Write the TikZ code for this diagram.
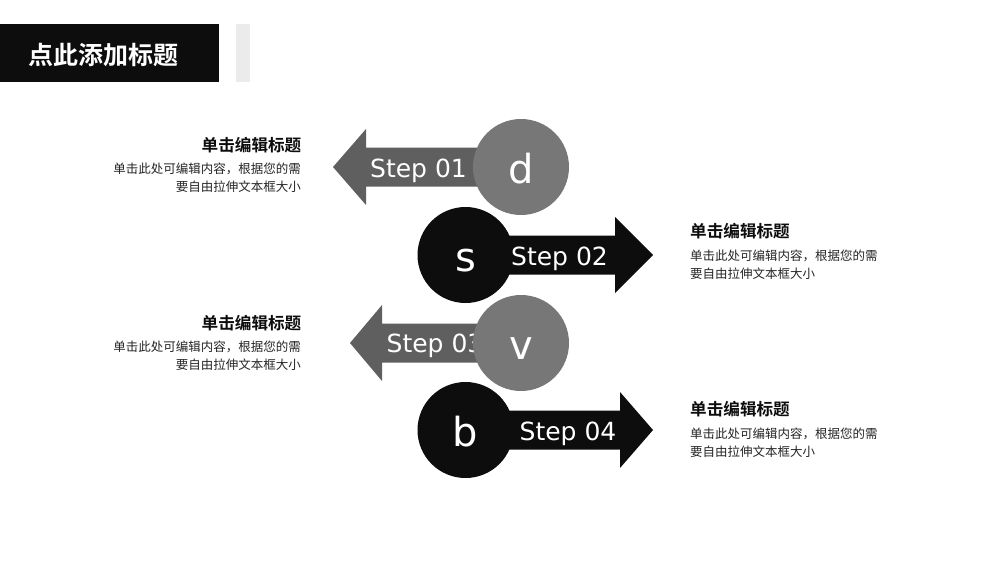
\documentclass[tikz,border=0pt]{standalone}
\usepackage{fontspec}
\setmainfont{DejaVu Sans}
\newfontfamily\cjk{Noto Sans CJK SC}
\newfontfamily\cjkb{Noto Sans CJK SC Bold}
\definecolor{dark}{HTML}{0D0D0D}
\definecolor{midg}{HTML}{5F5F5F}
\definecolor{circg}{HTML}{777777}
\begin{document}
\begin{tikzpicture}[x=1pt,y=-1pt,
 circ/.style={circle,minimum size=96pt,inner sep=0pt},
 letter/.style={font=\fontsize{40}{40}\selectfont,text=white,inner sep=0pt,anchor=base},
 steplab/.style={font=\fontsize{25}{25}\selectfont,text=white,inner sep=0pt,anchor=base},
 ttl/.style={font=\cjkb\fontsize{16.6}{18}\selectfont,text=dark,inner sep=0pt},
 bodyr/.style={font=\cjk\fontsize{12.5}{18}\selectfont,text=dark!90,inner sep=0pt,align=right,anchor=north east},
 bodyl/.style={font=\cjk\fontsize{12.5}{18}\selectfont,text=dark!90,inner sep=0pt,align=left,anchor=north west}]
\useasboundingbox (0,0) rectangle (1000,563);
\fill[white] (0,0) rectangle (1000,563);
\fill[dark] (0,24) rectangle (219,82);
\fill[black!8] (236,24) rectangle (250,82);
\node[text=white,font=\cjkb\fontsize{25}{25}\selectfont,inner sep=0pt] (head) at (103.5,55) {点此添加标题};
% arrows
\fill[midg] (333,167) -- (366,129) -- (366,147.5) -- (490,147.5) -- (490,186.5) -- (366,186.5) -- (366,205) -- cycle;
\node[steplab] (s1) at (418.5,177) {Step 01};
\node[circ,fill=circg] (d) at (521,167) {};
\node[letter] (dl) at (521,183.5) {d};
\fill[dark] (653,255) -- (615,217) -- (615,235.5) -- (490,235.5) -- (490,274.5) -- (615,274.5) -- (615,293) -- cycle;
\node[circ,fill=dark] (s) at (465.5,255) {};
\node[letter] (sl) at (465.5,271.5) {s};
\node[steplab] (s2) at (559.5,265) {Step 02};
\fill[midg] (350,343) -- (382,305) -- (382,323.5) -- (490,323.5) -- (490,362.5) -- (382,362.5) -- (382,381) -- cycle;
\node[steplab] (s3) at (435,352) {Step 03};
\node[circ,fill=circg] (v) at (521,343) {};
\node[letter] (vl) at (521,359.5) {v};
\fill[dark] (653,430) -- (620,392) -- (620,410.5) -- (490,410.5) -- (490,449.5) -- (620,449.5) -- (620,468) -- cycle;
\node[circ,fill=dark] (b) at (465.5,430) {};
\node[letter] (bl) at (465.5,446.5) {b};
\node[steplab] (s4) at (568,440) {Step 04};
% texts
\node[ttl,anchor=east] (t1) at (301.5,145) {单击编辑标题};
\node[bodyr] (b1) at (301,162.5) {单击此处可编辑内容，根据您的需\\要自由拉伸文本框大小};
\node[ttl,anchor=west] (t2) at (690,231.5) {单击编辑标题};
\node[bodyl] (b2) at (690,250) {单击此处可编辑内容，根据您的需\\要自由拉伸文本框大小};
\node[ttl,anchor=east] (t3) at (301.5,323) {单击编辑标题};
\node[bodyr] (b3) at (301,341) {单击此处可编辑内容，根据您的需\\要自由拉伸文本框大小};
\node[ttl,anchor=west] (t4) at (690,409.5) {单击编辑标题};
\node[bodyl] (b4) at (690,428) {单击此处可编辑内容，根据您的需\\要自由拉伸文本框大小};
\end{tikzpicture}
\end{document}
